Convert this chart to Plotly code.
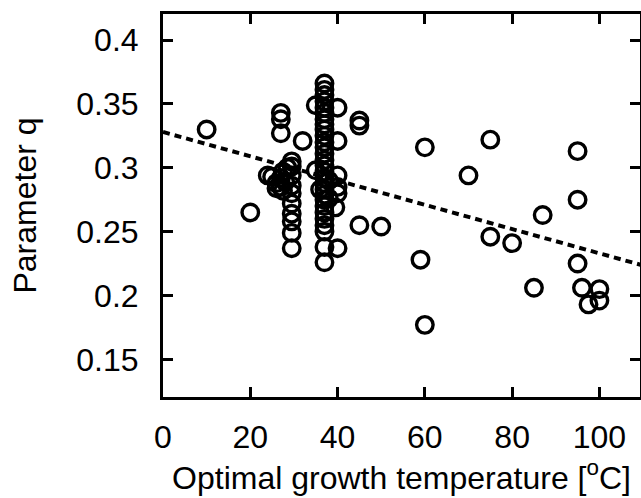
import plotly.graph_objects as go

# Optimal growth temperature (deg C) and parameter q
temp = [
    10, 20,
    # cluster ~25-30
    24, 25, 26, 27, 27, 27.5, 28, 28.5, 26, 27.5,
    27, 27, 27,
    29.5, 29.5, 29.5, 29.5, 29.5, 29.5, 29.5, 29.5, 29.5, 29.5,
    32,
    # column at 37
    37, 37, 37, 37, 37, 37, 37, 37, 37, 37, 37, 37, 37, 37, 37, 37, 37, 37,
    37, 37, 37, 37, 37, 37, 37, 37, 37, 37,
    35, 35, 36, 38, 38,
    40, 40, 40, 40, 40, 39.5, 40,
    45, 45, 45, 50,
    59, 60, 60, 70, 75, 75, 80, 85, 87, 95, 95, 95, 96, 97.5, 100, 100,
]
q = [
    0.330, 0.265,
    0.294, 0.293, 0.288, 0.292, 0.285, 0.297, 0.289, 0.300, 0.284, 0.282,
    0.343, 0.338, 0.327,
    0.305, 0.301, 0.294, 0.286, 0.280, 0.272, 0.264, 0.258, 0.249, 0.237,
    0.321,
    0.366, 0.361, 0.357, 0.352, 0.347, 0.343, 0.338, 0.334, 0.330, 0.325, 0.320, 0.316, 0.311, 0.306,
    0.302, 0.297, 0.292, 0.288, 0.283, 0.279, 0.275, 0.270, 0.265, 0.260, 0.255, 0.250, 0.238, 0.226,
    0.349, 0.298, 0.283, 0.290, 0.276,
    0.347, 0.321, 0.294, 0.280, 0.237, 0.269, 0.285,
    0.337, 0.333, 0.255, 0.254,
    0.228, 0.316, 0.177, 0.294, 0.322, 0.246, 0.241, 0.206, 0.263, 0.313, 0.275, 0.225, 0.206, 0.193, 0.205, 0.196,
]

# Linear trend line (endpoints of fitted line)
fit_temp = [0, 110]
fit_q = [0.328, 0.2235]

x_ticks = [0, 20, 40, 60, 80, 100]
y_ticks = [0.15, 0.2, 0.25, 0.3, 0.35, 0.4]
y_tick_text = ["0.15", "0.2", "0.25", "0.3", "0.35", "0.4"]

FONT = "Liberation Sans, Arial, sans-serif"

fig = go.Figure()
fig.add_trace(go.Scatter(
    x=fit_temp, y=fit_q, mode="lines",
    line=dict(color="black", width=4, dash="7px,5px"),
    hoverinfo="skip", showlegend=False,
))
fig.add_trace(go.Scatter(
    x=temp, y=q, mode="markers",
    marker=dict(symbol="circle-open", size=16.5, color="black",
                line=dict(width=3.4, color="black")),
    showlegend=False,
))

fig.update_layout(
    width=641, height=498,
    margin=dict(l=163, r=1, t=14, b=101),
    plot_bgcolor="white", paper_bgcolor="white",
    font=dict(family=FONT, size=32, color="black"),
)
fig.update_xaxes(
    range=[0, 109.3], tickvals=x_ticks, ticktext=[str(v) for v in x_ticks],
    ticks="inside", ticklen=10, tickwidth=3, tickcolor="black",
    showline=True, linewidth=3, linecolor="black", mirror="ticks",
    showgrid=False, zeroline=False, automargin=False,
    ticklabelstandoff=10,
    title=dict(text="Optimal growth temperature [<sup>o</sup>C]", standoff=8,
               font=dict(size=32)),
)
fig.update_yaxes(
    range=[0.1205, 0.4204], tickvals=y_ticks, ticktext=y_tick_text,
    ticks="inside", ticklen=10, tickwidth=3, tickcolor="black",
    showline=True, linewidth=3, linecolor="black", mirror="ticks",
    showgrid=False, zeroline=False, automargin=False,
    ticklabelstandoff=15,
    title=dict(text="Parameter q", standoff=31, font=dict(size=32)),
)

fig.write_html(
    "out.html",
    config={"displayModeBar": False},
    post_script="document.body.style.margin='0';document.body.style.overflow='hidden';",
)
